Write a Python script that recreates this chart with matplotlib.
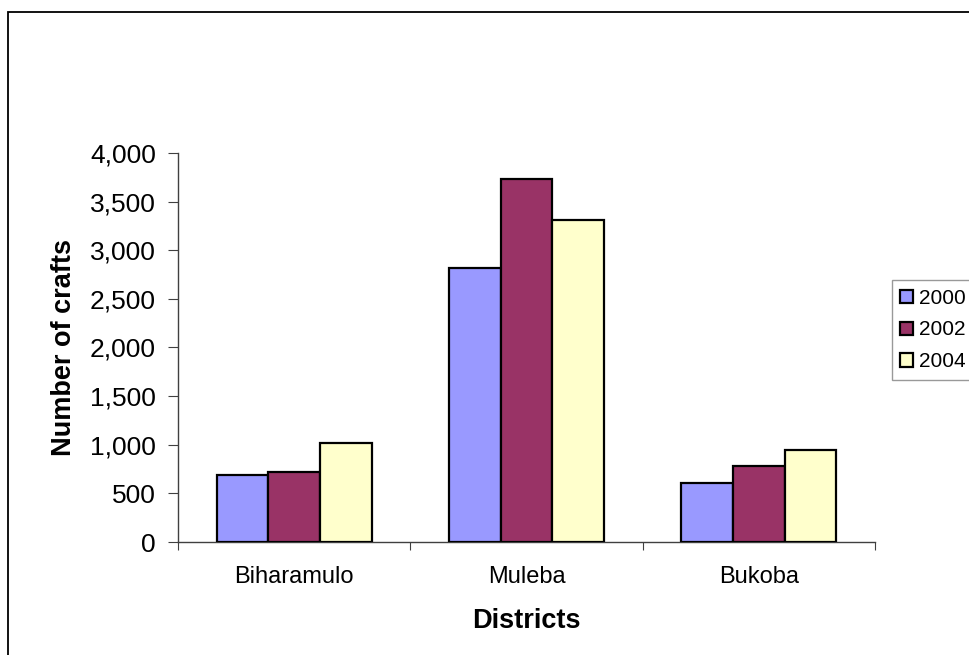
import matplotlib
matplotlib.use("Agg")
import matplotlib.pyplot as plt
import numpy as np
from matplotlib.patches import Rectangle
from matplotlib.ticker import FuncFormatter, MultipleLocator

plt.rcParams["font.family"] = ["Liberation Sans", "DejaVu Sans"]

DISTRICTS = ["Biharamulo", "Muleba", "Bukoba"]
YEARS = ["2000", "2002", "2004"]
CRAFTS_2000 = [693, 2821, 607]
CRAFTS_2002 = [720, 3729, 785]
CRAFTS_2004 = [1018, 3307, 950]
COLORS = ["#9999FF", "#993366", "#FFFFCC"]

fig = plt.figure(figsize=(9.7, 6.55), dpi=100)
ax = fig.add_axes([0.1835, 0.1725, 0.7185, 0.594])

# outer chart-area frame (runs off the right and bottom edges)
fig.patches.append(Rectangle((8 / 970, -0.2), 1.2, 1 - 12 / 655 + 0.2,
                             transform=fig.transFigure, fill=False,
                             edgecolor="black", lw=1.3, zorder=0))

x = np.arange(len(DISTRICTS)) + 0.5
w = 1 / 4.5
series = [CRAFTS_2000, CRAFTS_2002, CRAFTS_2004]
for i, (yr, vals, col) in enumerate(zip(YEARS, series, COLORS)):
    ax.bar(x + (i - 1) * w, vals, width=w, color=col, edgecolor="black",
           lw=1.6, label=yr, zorder=3)

ax.set_xlim(0, 3)
ax.set_ylim(0, 4000)
ax.yaxis.set_major_locator(MultipleLocator(500))
ax.yaxis.set_major_formatter(FuncFormatter(lambda v, _: f"{v:,.0f}"))
ax.set_xticks([0, 1, 2, 3])
ax.set_xticklabels([])
ax.set_xticks(x, minor=True)
ax.set_xticklabels(DISTRICTS, minor=True, fontsize=17)
ax.tick_params(axis="x", which="major", length=6, direction="out", color="#404040")
ax.tick_params(axis="x", which="minor", length=0, pad=17)
ax.tick_params(axis="y", length=7, direction="out", color="#404040",
               labelsize=19, pad=9)

for s in ("top", "right"):
    ax.spines[s].set_visible(False)
for s in ("left", "bottom"):
    ax.spines[s].set_color("#404040")
    ax.spines[s].set_linewidth(1.0)

ax.set_xlabel("Districts", fontsize=19.5, fontweight="bold", labelpad=15)
ax.set_ylabel("Number of crafts", fontsize=19.5, fontweight="bold", labelpad=9)

leg = ax.legend(loc="center left", bbox_to_anchor=(892 / 970, 1 - 330 / 655),
                bbox_transform=fig.transFigure, fontsize=15, frameon=True,
                fancybox=False, edgecolor="#808080", handlelength=0.6,
                handleheight=0.6, handletextpad=0.3, labelspacing=0.62,
                borderpad=0.4, borderaxespad=0)
leg.get_frame().set_linewidth(1.0)
for h in leg.legend_handles:
    h.set_linewidth(1.6)

fig.savefig("out.png", dpi=100)
